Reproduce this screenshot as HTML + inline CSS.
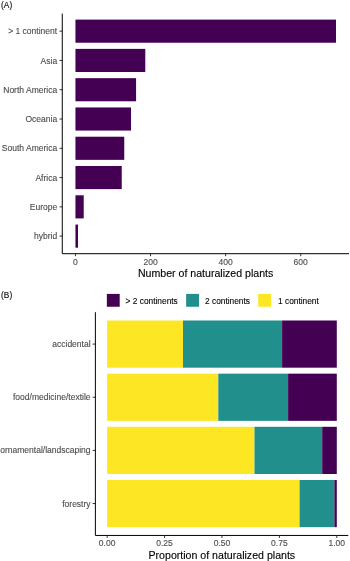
<!DOCTYPE html>
<html><head><meta charset="utf-8"><title>chart</title>
<style>
html,body{margin:0;padding:0;background:#fff;}
body{width:350px;height:561px;overflow:hidden;}
svg{display:block;opacity:0.9999;will-change:transform;font-family:"Liberation Sans",sans-serif;}
.at{font-size:8.52px;fill:#4d4d4d;stroke:#4d4d4d;stroke-width:0.12px;}
.tt{font-size:10.6px;fill:#000;stroke:#000;stroke-width:0.12px;}
.tag{font-size:8.3px;fill:#111;stroke:#111;stroke-width:0.15px;}
.lg{font-size:8.35px;fill:#000;stroke:#000;stroke-width:0.1px;}
</style></head><body>
<svg width="350" height="561" viewBox="0 0 350 561">
<rect width="350" height="561" fill="#fff"/>
<text class="tag" x="1.1" y="8.0">(A)</text>
<rect x="75.45" y="19.60" width="260.55" height="23.13" fill="#440154"/>
<line x1="59.52" x2="62.27" y1="31.17" y2="31.17" stroke="#333" stroke-width="1"/>
<text class="at" text-anchor="end" x="57.20" y="34.22">&gt; 1 continent</text>
<rect x="75.45" y="48.88" width="69.83" height="23.13" fill="#440154"/>
<line x1="59.52" x2="62.27" y1="60.45" y2="60.45" stroke="#333" stroke-width="1"/>
<text class="at" text-anchor="end" x="57.20" y="63.50">Asia</text>
<rect x="75.45" y="78.16" width="60.63" height="23.13" fill="#440154"/>
<line x1="59.52" x2="62.27" y1="89.73" y2="89.73" stroke="#333" stroke-width="1"/>
<text class="at" text-anchor="end" x="57.20" y="92.78">North America</text>
<rect x="75.45" y="107.44" width="55.56" height="23.13" fill="#440154"/>
<line x1="59.52" x2="62.27" y1="119.01" y2="119.01" stroke="#333" stroke-width="1"/>
<text class="at" text-anchor="end" x="57.20" y="122.06">Oceania</text>
<rect x="75.45" y="136.72" width="48.81" height="23.13" fill="#440154"/>
<line x1="59.52" x2="62.27" y1="148.29" y2="148.29" stroke="#333" stroke-width="1"/>
<text class="at" text-anchor="end" x="57.20" y="151.34">South America</text>
<rect x="75.45" y="166.00" width="46.29" height="23.13" fill="#440154"/>
<line x1="59.52" x2="62.27" y1="177.57" y2="177.57" stroke="#333" stroke-width="1"/>
<text class="at" text-anchor="end" x="57.20" y="180.62">Africa</text>
<rect x="75.45" y="195.29" width="8.26" height="23.13" fill="#440154"/>
<line x1="59.52" x2="62.27" y1="206.85" y2="206.85" stroke="#333" stroke-width="1"/>
<text class="at" text-anchor="end" x="57.20" y="209.90">Europe</text>
<rect x="75.45" y="224.57" width="2.55" height="23.13" fill="#440154"/>
<line x1="59.52" x2="62.27" y1="236.13" y2="236.13" stroke="#333" stroke-width="1"/>
<text class="at" text-anchor="end" x="57.20" y="239.18">hybrid</text>
<path d="M62.27 13.60V253.70H349.00" fill="none" stroke="#000" stroke-width="1"/>
<line x1="75.45" x2="75.45" y1="253.70" y2="256.20" stroke="#333" stroke-width="1"/>
<text class="at" text-anchor="middle" x="75.45" y="264.65">0</text>
<line x1="150.54" x2="150.54" y1="253.70" y2="256.20" stroke="#333" stroke-width="1"/>
<text class="at" text-anchor="middle" x="150.54" y="264.65">200</text>
<line x1="225.62" x2="225.62" y1="253.70" y2="256.20" stroke="#333" stroke-width="1"/>
<text class="at" text-anchor="middle" x="225.62" y="264.65">400</text>
<line x1="300.71" x2="300.71" y1="253.70" y2="256.20" stroke="#333" stroke-width="1"/>
<text class="at" text-anchor="middle" x="300.71" y="264.65">600</text>
<text class="tt" text-anchor="middle" x="205.63" y="277.40">Number of naturalized plants</text>
<text class="tag" x="1.1" y="297.9">(B)</text>
<rect x="107.15" y="320.49" width="75.85" height="47.20" fill="#FDE725"/>
<rect x="183.00" y="320.49" width="99.10" height="47.20" fill="#21908C"/>
<rect x="282.10" y="320.49" width="54.70" height="47.20" fill="#440154"/>
<line x1="92.63" x2="95.38" y1="344.09" y2="344.09" stroke="#333" stroke-width="1"/>
<text class="at" text-anchor="end" x="90.60" y="347.14">accidental</text>
<rect x="107.15" y="373.65" width="111.15" height="47.20" fill="#FDE725"/>
<rect x="218.30" y="373.65" width="69.80" height="47.20" fill="#21908C"/>
<rect x="288.10" y="373.65" width="48.70" height="47.20" fill="#440154"/>
<line x1="92.63" x2="95.38" y1="397.25" y2="397.25" stroke="#333" stroke-width="1"/>
<text class="at" text-anchor="end" x="90.60" y="400.30">food/medicine/textile</text>
<rect x="107.15" y="426.80" width="147.35" height="47.20" fill="#FDE725"/>
<rect x="254.50" y="426.80" width="67.70" height="47.20" fill="#21908C"/>
<rect x="322.20" y="426.80" width="14.60" height="47.20" fill="#440154"/>
<line x1="92.63" x2="95.38" y1="450.40" y2="450.40" stroke="#333" stroke-width="1"/>
<text class="at" text-anchor="end" x="90.60" y="453.45">ornamental/landscaping</text>
<rect x="107.15" y="479.96" width="192.45" height="47.20" fill="#FDE725"/>
<rect x="299.60" y="479.96" width="34.80" height="47.20" fill="#21908C"/>
<rect x="334.40" y="479.96" width="2.40" height="47.20" fill="#440154"/>
<line x1="92.63" x2="95.38" y1="503.56" y2="503.56" stroke="#333" stroke-width="1"/>
<text class="at" text-anchor="end" x="90.60" y="506.61">forestry</text>
<path d="M95.38 312.20V535.45H348.30" fill="none" stroke="#000" stroke-width="1"/>
<line x1="107.15" x2="107.15" y1="535.45" y2="537.95" stroke="#333" stroke-width="1"/>
<text class="at" text-anchor="middle" x="107.15" y="546.45">0.00</text>
<line x1="164.56" x2="164.56" y1="535.45" y2="537.95" stroke="#333" stroke-width="1"/>
<text class="at" text-anchor="middle" x="164.56" y="546.45">0.25</text>
<line x1="221.98" x2="221.98" y1="535.45" y2="537.95" stroke="#333" stroke-width="1"/>
<text class="at" text-anchor="middle" x="221.98" y="546.45">0.50</text>
<line x1="279.39" x2="279.39" y1="535.45" y2="537.95" stroke="#333" stroke-width="1"/>
<text class="at" text-anchor="middle" x="279.39" y="546.45">0.75</text>
<line x1="336.80" x2="336.80" y1="535.45" y2="537.95" stroke="#333" stroke-width="1"/>
<text class="at" text-anchor="middle" x="336.80" y="546.45">1.00</text>
<text class="tt" text-anchor="middle" x="221.84" y="559.20">Proportion of naturalized plants</text>
<rect x="106.85" y="293.9" width="12.85" height="12.85" fill="#440154"/>
<text class="lg" x="125.60" y="303.6">&gt; 2 continents</text>
<rect x="186.15" y="293.9" width="12.85" height="12.85" fill="#21908C"/>
<text class="lg" x="205.00" y="303.6">2 continents</text>
<rect x="258.20" y="293.9" width="12.85" height="12.85" fill="#FDE725"/>
<text class="lg" x="278.00" y="303.6">1 continent</text>
</svg>
</body></html>
